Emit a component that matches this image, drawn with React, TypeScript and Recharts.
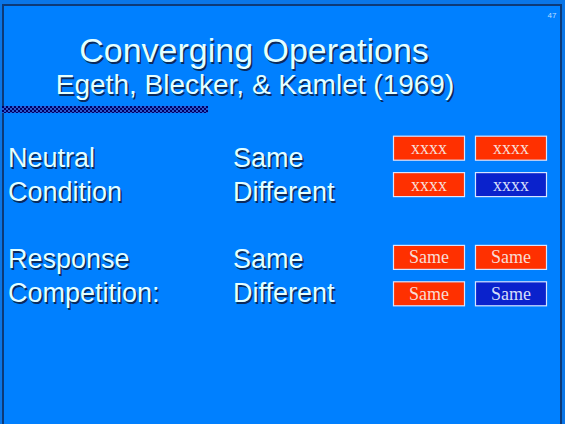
import { ScatterChart, Scatter, XAxis, YAxis, Customized } from "recharts";

const W = 565;
const H = 424;

// slide text
const titleText = "Converging Operations";
const subtitleText = "Egeth, Blecker, & Kamlet (1969)";
const slideNumber = "47";
const conditionLines = ["Neutral", "Condition", "Response", "Competition:"];
const pairingLines = ["Same", "Different", "Same", "Different"];

// stimulus boxes: row slot (3 is the gap between groups), column, word, ink
const stimulusRow = [1, 1, 2, 2, 4, 4, 5, 5];
const stimulusCol = [1, 2, 1, 2, 1, 2, 1, 2];
const stimulusWord = ["xxxx", "xxxx", "xxxx", "xxxx", "Same", "Same", "Same", "Same"];
const stimulusInk = ["red", "red", "red", "blue", "red", "red", "red", "blue"];

const stimuli = stimulusRow.map((row, i) => ({
  row,
  col: stimulusCol[i],
  word: stimulusWord[i],
  ink: stimulusInk[i],
}));

const SANS = "'Liberation Sans', Arial, Helvetica, sans-serif";
const SERIF = "'Liberation Serif', 'Times New Roman', serif";
const TEXT = "#e4ffff";
const SHADOW = "#0a2a5c";
const lineBaselines = [167, 201, 268, 302];

function ShadowText({ x, y, size, anchor = "start", children }: any) {
  return (
    <g fontFamily={SANS} fontSize={size} textAnchor={anchor}>
      <text x={x + 1.5} y={y + 1.5} fill={SHADOW}>
        {children}
      </text>
      <text x={x} y={y} fill={TEXT}>
        {children}
      </text>
    </g>
  );
}

function StimulusBox(props: any) {
  const { cx, cy, payload } = props;
  if (cx == null || cy == null) return null;
  const w = 71;
  const h = 24;
  const fill = payload.ink === "blue" ? "#0a22cc" : "#ff3000";
  return (
    <g>
      <rect
        x={cx - w / 2}
        y={cy - h / 2}
        width={w}
        height={h}
        fill={fill}
        stroke="#d8e4ff"
        strokeWidth={1.2}
      />
      <text
        x={cx}
        y={cy + 6}
        textAnchor="middle"
        fontFamily={SERIF}
        fontSize={18}
        fill={payload.ink === "blue" ? "#d4defa" : "#f8dcd4"}
      >
        {payload.word}
      </text>
    </g>
  );
}

function SlideText() {
  return (
    <g>
      <defs>
        <pattern id="checks" width="4" height="4" patternUnits="userSpaceOnUse">
          <rect width="4" height="4" fill="#2a5cd0" />
          <rect width="2" height="2" fill="#000066" />
          <rect x="2" y="2" width="2" height="2" fill="#000066" />
        </pattern>
      </defs>
      <rect x={2} y={106} width={206} height={7} fill="url(#checks)" />
      <text x={552} y={18} textAnchor="middle" fontFamily={SANS} fontSize={8} fill="#bcdcff">
        {slideNumber}
      </text>
      <ShadowText x={254} y={62} size={34} anchor="middle">
        {titleText}
      </ShadowText>
      <ShadowText x={255} y={94} size={28} anchor="middle">
        {subtitleText}
      </ShadowText>
      {conditionLines.map((t, i) => (
        <ShadowText key={"c" + i} x={8} y={lineBaselines[i]} size={27}>
          {t}
        </ShadowText>
      ))}
      {pairingLines.map((t, i) => (
        <ShadowText key={"p" + i} x={233} y={lineBaselines[i]} size={27}>
          {t}
        </ShadowText>
      ))}
    </g>
  );
}

export default function App() {
  return (
    <div
      style={{
        position: "absolute",
        left: 0,
        top: 0,
        width: W,
        height: H,
        background: "#0a76e8",
        overflow: "hidden",
      }}
    >
      <div
        style={{
          position: "absolute",
          left: 2,
          top: 4,
          width: 556,
          height: 440,
          background: "#0080ff",
          border: "2px solid #0d3a78",
        }}
      />
      <div style={{ position: "absolute", left: 0, top: 0 }}>
        <ScatterChart
          width={W}
          height={H}
          margin={{ top: 130, right: 13, bottom: 112, left: 388 }}
        >
          <XAxis type="number" dataKey="col" domain={[0.5, 2.5]} hide />
          <YAxis type="number" dataKey="row" domain={[0.5, 5.5]} reversed hide />
          <Customized component={SlideText} />
          <Scatter data={stimuli} shape={StimulusBox} isAnimationActive={false} />
        </ScatterChart>
      </div>
    </div>
  );
}
